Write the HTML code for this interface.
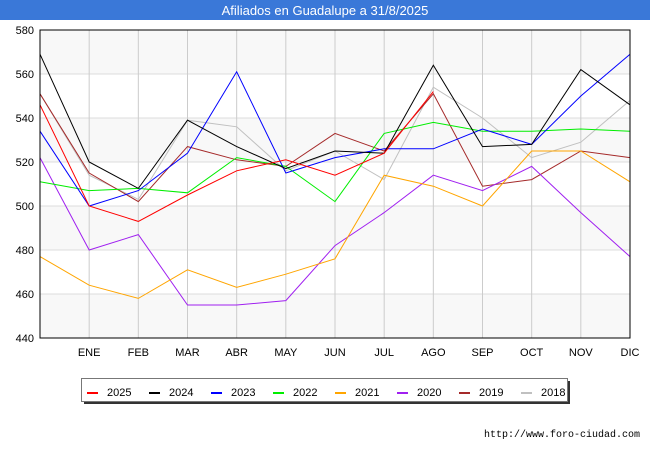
<!DOCTYPE html>
<html><head><meta charset="utf-8"><style>
body{margin:0;background:#fff;font-family:"Liberation Sans","DejaVu Sans",sans-serif}
svg{display:block}
</style></head><body>
<svg id="c" width="650" height="450" xmlns="http://www.w3.org/2000/svg">
<rect x="0" y="0" width="650" height="20" fill="#3a78d8"/>
<text x="325" y="15" text-anchor="middle" fill="#fff" font-size="13">Afiliados en Guadalupe a 31/8/2025</text>
<rect x="40" y="30" width="590" height="308" fill="#f8f8f8"/>
<g id="grid"></g>
<g id="lines"></g>
<rect x="40" y="30" width="590" height="308" fill="none" stroke="#000" stroke-width="1"/>
<g id="legend"></g>
<text x="640" y="437" text-anchor="end" font-size="10" fill="#000" font-family="Liberation Mono, monospace">http://www.foro-ciudad.com</text>
</svg>
<script>
const months=["","ENE","FEB","MAR","ABR","MAY","JUN","JUL","AGO","SEP","OCT","NOV","DIC"];
const yTicks=[440,460,480,500,520,540,560,580];
const years=["2025","2024","2023","2022","2021","2020","2019","2018"];
const colors=["#ff0000","#000000","#0000ff","#00ee00","#ffa500","#a020f0","#a52a2a","#c0c0c0"];
const s2025=[546,500,493,505,516,521,514,524,552];
const s2024=[569,520,508,539,527,517,525,524,564,527,528,562,546];
const s2023=[534,500,507,524,561,515,522,526,526,535,528,550,569];
const s2022=[511,507,508,506,522,518,502,533,538,534,534,535,534];
const s2021=[477,464,458,471,463,469,476,514,509,500,525,525,511];
const s2020=[522,480,487,455,455,457,482,497,514,507,518,497,477];
const s2019=[551,515,502,527,521,518,533,525,551,509,512,525,522];
const s2018=[551,514,503,539,536,516,525,512,554,540,522,529,548];
const series=[s2025,s2024,s2023,s2022,s2021,s2020,s2019,s2018];
const NS="http://www.w3.org/2000/svg";
const X=i=>40+i*(590/12);
const Y=v=>338-(v-440)*(308/140);
function mk(t,a,p){const e=document.createElementNS(NS,t);for(const k in a)e.setAttribute(k,a[k]);p.appendChild(e);return e;}
const g=document.getElementById('grid');
for(let i=1;i<yTicks.length-1;i+=2){
 const r=mk('rect',{x:40,y:Y(yTicks[i+1]),width:590,height:Y(yTicks[i])-Y(yTicks[i+1]),fill:'#ffffff'},g);
 
 
}
for(let i=0;i<yTicks.length;i++){const v=yTicks[i];
 const l=mk('line',{x1:40,x2:630,y1:Y(v),y2:Y(v),stroke:'#dddddd'},g);
 
 
 const t=mk('text',{x:34,y:Y(v)+4,'text-anchor':'end','font-size':11,fill:'#000'},g);
 t.textContent=v;
 
 
}
for(let i=1;i<months.length;i++){
 const l=mk('line',{x1:X(i),x2:X(i),y1:30,y2:338,stroke:'#cccccc'},g);
 
 
 const t=mk('text',{x:X(i),y:356,'text-anchor':'middle','font-size':11,fill:'#000'},g);
 t.textContent=months[i];
 
 
}
const lg=document.getElementById('lines');
for(let s=series.length-1;s>=0;s--){
 const pts=series[s].map((v,i)=>X(i)+','+Y(v)).join(' ');
 const p=mk('polyline',{points:pts,fill:'none',stroke:colors[s],'stroke-width':1},lg);
 
 
}
const L=document.getElementById('legend');
const sh=mk('rect',{x:84,y:381,width:486,height:23,fill:'#333'},L);


const bx=mk('rect',{x:81.5,y:378.5,width:486,height:23,fill:'#fff',stroke:'#777'},L);


for(let i=0;i<years.length;i++){
 const x0=87+i*62;
 const sw=mk('rect',{x:x0,y:392,width:11,height:2,fill:colors[i]},L);
 
 
 const t=mk('text',{x:x0+20,y:396,'font-size':11,fill:'#000'},L);
 t.textContent=years[i];
 
 
}
</script>
</body></html>
